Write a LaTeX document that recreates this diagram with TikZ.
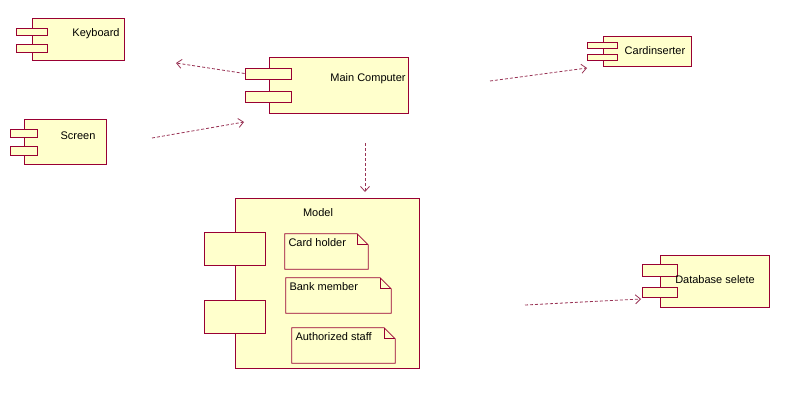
\documentclass[tikz,border=0pt]{standalone}
\usepackage{fontspec}
\setmainfont{Liberation Sans}
\usetikzlibrary{positioning,arrows.meta,calc}
\definecolor{umlline}{HTML}{990033}
\definecolor{umlfill}{HTML}{FFFFCC}
\definecolor{deparrow}{HTML}{993355}

\begin{document}
\begin{tikzpicture}[
x=1pt,
y=-1pt,
comp/.style={
  draw=umlline,
  fill=umlfill,
  line width=0.8pt,
  inner sep=0pt
  },
note/.style={
  draw=none,
  inner sep=0pt
  },
lbl/.style={
  font=\fontsize{11}{13}\selectfont,
  inner sep=0pt
  },
dep/.style={
  draw=deparrow,
  line width=0.8pt,
  dash pattern=on 3pt off 2pt,
  -{Straight Barb[length=5pt,width=9pt]}
  }
]
\useasboundingbox[fill=white] (0,0) rectangle (800,407);

% component bodies, then their tabs
\foreach \nm/\xa/\ya/\xb/\yb in {
  kb/32/18/124/60,
  mc/269/57/408/113,
  sc/24/119/106/164,
  ci/603/36/691/66,
  db/660/255/769/307,
  md/235/198/419/368,
  kb-t1/16/28/47/35,
  kb-t2/16/44/47/52,
  mc-t1/245/68/291/79,
  mc-t2/245/91/291/102,
  sc-t1/10/129/37/137,
  sc-t2/10/146/37/155,
  ci-t1/587/42/617/48,
  ci-t2/587/54/617/60,
  db-t1/642/264/677/276,
  db-t2/642/287/677/297,
  md-t1/204/232/265/265,
  md-t2/204/300/265/333}
  \node[comp, minimum width={(\xb-\xa)*1pt}, minimum height={(\yb-\ya)*1pt}]
    (\nm) at ({(\xa+\xb)/2},{(\ya+\yb)/2}) {};

\foreach \nm/\x/\y/\txt in {
  kb-l/96/34/Keyboard,
  mc-l/368/79/Main Computer,
  sc-l/78/136/Screen,
  ci-l/655/51/Cardinserter,
  db-l/715/280/Database selete,
  md-l/318/213/Model}
  \node[lbl] (\nm) at (\x,\y) {\txt};

% notes inside the model
\foreach \nm/\xa/\ya/\xb/\yb/\txt in {
  ch/285/234/368/269/Card holder,
  bm/286/278/391/313/Bank member,
  as/292/328/395/363/Authorized staff}
{
  \node[note, minimum width={(\xb-\xa)*1pt}, minimum height={(\yb-\ya)*1pt}]
    (\nm) at ({(\xa+\xb)/2},{(\ya+\yb)/2}) {};
  \filldraw[fill=umlfill, draw=umlline, line width=0.8pt]
    (\nm.north west) -- ([xshift=-11pt]\nm.north east)
    -- ([yshift=-11pt]\nm.north east) -- (\nm.south east)
    -- (\nm.south west) -- cycle;
  \draw[umlline, line width=0.8pt]
    ([xshift=-11pt]\nm.north east) |- ([yshift=-11pt]\nm.north east);
  \node[lbl, anchor=north west] (\nm-l)
    at ([xshift=3.5pt, yshift=-5pt]\nm.north west) {\txt};
}

\coordinate (kb-in) at (176,63);
\coordinate (sc-out) at (152,138);
\coordinate (mc-in) at (244,122);
\coordinate (mc-out) at (365,143);
\coordinate (md-in) at (365,192);
\coordinate (ci-out) at (490,81);
\coordinate (ci-in) at (587,68);
\coordinate (db-out) at (525,305);
\coordinate (db-in) at (641,299);

\draw[dep] (mc-t1.west) -- (kb-in);
\draw[dep] (sc-out) -- (mc-in);
\draw[dep] (mc-out) -- (md-in);
\draw[dep] (ci-out) -- (ci-in);
\draw[dep] (db-out) -- (db-in);
\end{tikzpicture}
\end{document}
